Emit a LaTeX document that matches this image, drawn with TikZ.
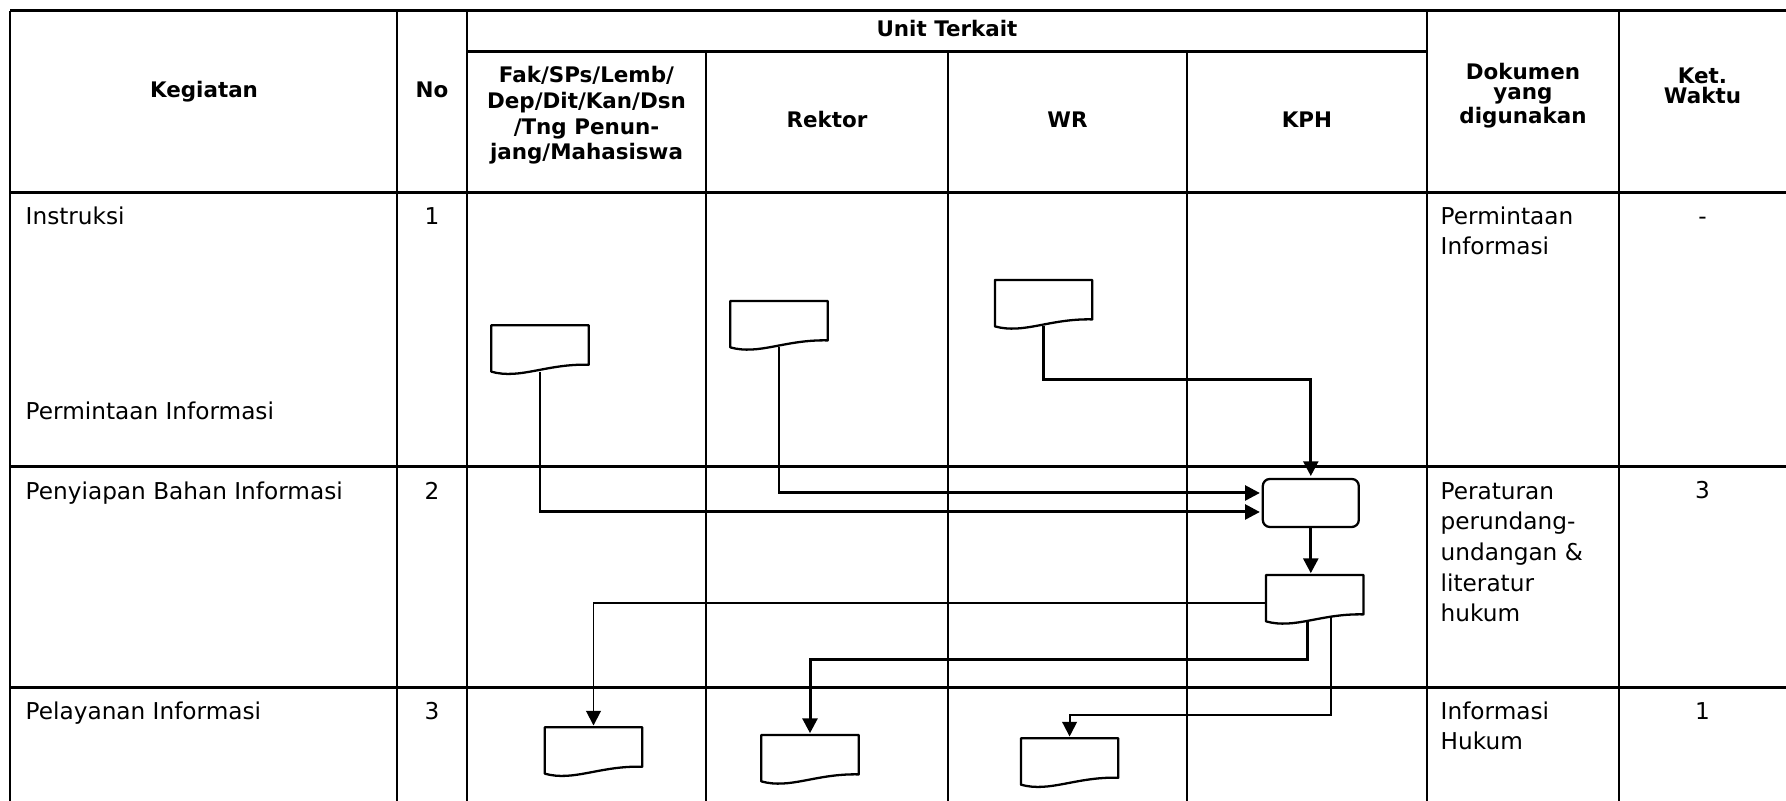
\documentclass[tikz,border=0pt]{standalone}
\usepackage{fontspec}
\setmainfont{DejaVu Sans}
\usetikzlibrary{arrows.meta}

\newcommand\docnode[2]{%
  \node[docu] (#1) at (#2) {};
  \draw[docline] (#1.north west) -- (#1.north east) -- ([yshift=.07cm]#1.south east)
    .. controls ([xshift=-.43cm,yshift=.08cm]#1.south east) and ([xshift=.29cm,yshift=-.08cm]#1.south west) .. (#1.south west) -- cycle;}

\begin{document}
\begin{tikzpicture}[>={Triangle[length=4.2pt,width=4.2pt]},
  hline/.style={line width=.85pt},
  vline/.style={line width=.65pt},
  docu/.style={rectangle,minimum width=.96cm,minimum height=.45cm,inner sep=0pt},
  docline/.style={line width=.65pt,line join=round},
  proc/.style={rectangle,draw,line width=.65pt,rounded corners=2pt,
    minimum width=.96cm,minimum height=.48cm,inner sep=0pt},
  flow/.style={line width=.85pt,shorten >=.5pt},
  thinflow/.style={line width=.55pt,shorten >=.5pt},
  head/.style={font=\bfseries\fontsize{6.1}{5.7}\selectfont,align=center,inner sep=0pt,anchor=base},
  headfak/.style={head,font=\bfseries\fontsize{6.1}{7.35}\selectfont},
  cell/.style={font=\fontsize{6.6}{8.7}\selectfont,align=left,inner sep=0pt,anchor=base west},
  num/.style={font=\fontsize{6.6}{8.7}\selectfont,inner sep=0pt,anchor=base}]
  \useasboundingbox (0,0) rectangle (17.86,-8.01);

  \foreach \y in {-.11,-1.93,-4.67,-6.88}
    \draw[hline] (.10,\y) -- (17.86,\y);
  \draw[hline] (4.67,-.52) -- (14.27,-.52);
  \foreach \x in {.10,3.97,4.67,14.27,16.19}
    \draw[vline] (\x,-.11) -- (\x,-8.01);
  \foreach \x in {7.06,9.48,11.87}
    \draw[vline] (\x,-.52) -- (\x,-8.01);

  \node[head] (hkeg) at (2.04,-.973) {Kegiatan};
  \node[head] (hno) at (4.32,-.973) {No};
  \node[head] (hunit) at (9.47,-.367) {Unit Terkait};
  \node[headfak] (hfak) at (5.865,-1.60) {Fak/SPs/Lemb/\\Dep/Dit/Kan/Dsn\\/Tng Penun-\\jang/Mahasiswa};
  \node[head] (hrek) at (8.27,-1.273) {Rektor};
  \node[head] (hwr) at (10.675,-1.273) {WR};
  \node[head] (hkph) at (13.07,-1.273) {KPH};
  \node[head] (hdok) at (15.23,-1.24) {Dokumen\\yang\\digunakan};
  \node[head] (hket) at (17.025,-1.04) {Ket.\\Waktu};

  \node[cell] (keg1a) at (.25,-2.243) {Instruksi};
  \node[cell] (keg1b) at (.25,-4.20) {Permintaan Informasi};
  \node[cell] (keg2) at (.25,-4.993) {Penyiapan Bahan Informasi};
  \node[cell] (keg3) at (.25,-7.193) {Pelayanan Informasi};
  \node[num] (no1) at (4.32,-2.243) {1};
  \node[num] (no2) at (4.32,-4.993) {2};
  \node[num] (no3) at (4.32,-7.193) {3};
  \node[cell] (dok1) at (14.40,-2.55) {Permintaan\\Informasi};
  \node[cell] (dok2) at (14.40,-6.217) {Peraturan\\perundang-\\undangan \&\\literatur\\hukum};
  \node[cell] (dok3) at (14.40,-7.50) {Informasi\\Hukum};
  \node[num] (ket1) at (17.025,-2.243) {-};
  \node[num] (ket2) at (17.025,-4.99) {3};
  \node[num] (ket3) at (17.025,-7.20) {1};

  \docnode{docfak}{5.40,-3.485}
  \docnode{docrek}{7.79,-3.242}
  \docnode{docwr}{10.436,-3.032}
  \node[proc] (proc) at (13.108,-5.03) {};
  \docnode{dockph}{13.147,-5.982}
  \docnode{outfak}{5.935,-7.505}
  \docnode{outrek}{8.10,-7.582}
  \docnode{outwr}{10.696,-7.615}

  \draw[flow,->] (docwr.south) -- ++(0,-.535) -| (proc.north);
  \draw[flow,->] (docrek.south) |- ([yshift=.1cm]proc.west);
  \draw[flow,->] (docfak.south) |- ([yshift=-.09cm]proc.west);
  \draw[flow,->] (proc.south) -- (proc.south |- dockph.north);
  \draw[thinflow,->] ([yshift=-.045cm]dockph.west) -| (outfak.north);
  \draw[flow,->] ([xshift=-.07cm]dockph.south) -- ++(0,-.386) -| (outrek.north);
  \draw[thinflow,->] ([xshift=.16cm,yshift=.05cm]dockph.south) -- ++(0,-.983) -| (outwr.north);
\end{tikzpicture}
\end{document}
